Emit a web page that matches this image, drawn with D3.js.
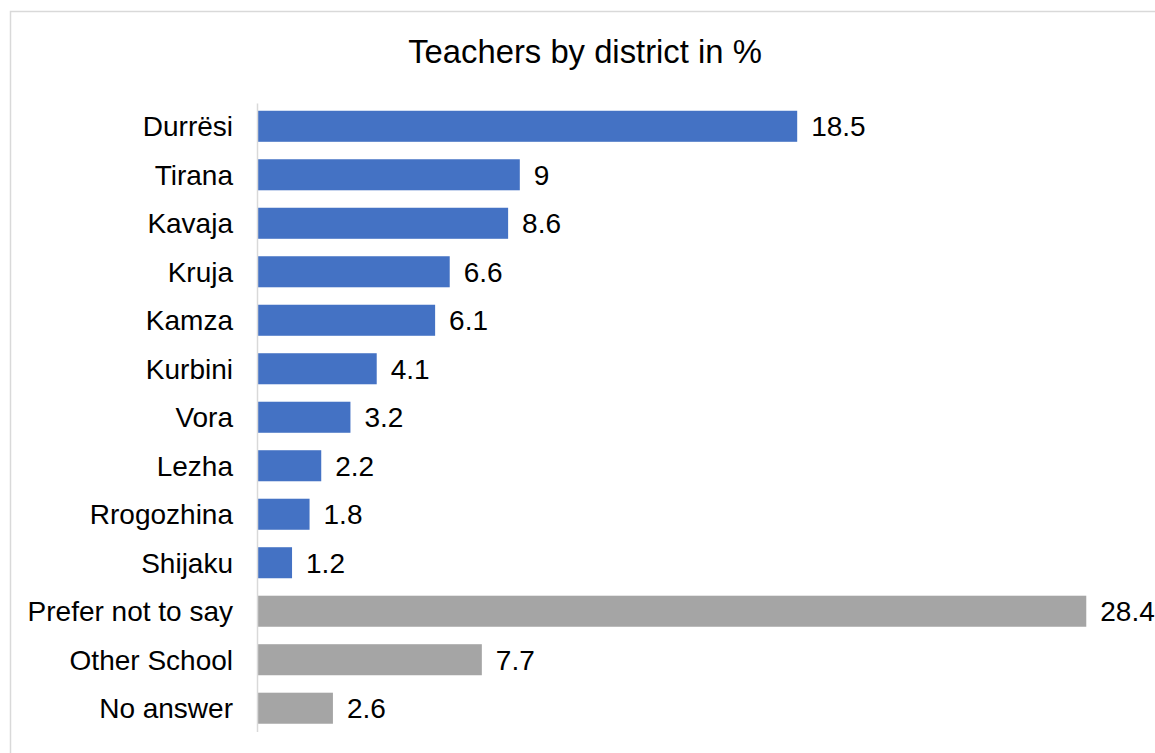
<!DOCTYPE html>
<html>
<head>
<meta charset="utf-8">
<script src="https://cdn.jsdelivr.net/npm/d3@7"></script>
<style>
  html, body { margin: 0; padding: 0; background: #fff; }
  svg { display: block; }
  text { font-family: "Liberation Sans", Arial, sans-serif; fill: #000; }
</style>
</head>
<body>
<svg id="chart" width="1155" height="753"></svg>
<script>
const title = "Teachers by district in %";
const categories = ["Durrësi", "Tirana", "Kavaja", "Kruja", "Kamza", "Kurbini", "Vora", "Lezha", "Rrogozhina", "Shijaku", "Prefer not to say", "Other School", "No answer"];
const values = [18.5, 9, 8.6, 6.6, 6.1, 4.1, 3.2, 2.2, 1.8, 1.2, 28.4, 7.7, 2.6];
const groups = ["district", "district", "district", "district", "district", "district", "district", "district", "district", "district", "other", "other", "other"];
const xDomain = [0, 30];

const colors = { district: "#4472C4", other: "#A5A5A5" };

const svg = d3.select("#chart");

// chart border
svg.append("rect")
  .attr("x", 10.5).attr("y", 11.5)
  .attr("width", 1170).attr("height", 780)
  .attr("fill", "none").attr("stroke", "#D9D9D9").attr("stroke-width", 1.5);

const x = d3.scaleLinear().domain(xDomain).range([257, 1133]);
const y = d3.scaleBand().domain(categories).range([103, 731.5]).paddingInner(0.36).paddingOuter(0.16);

const data = categories.map((c, i) => ({ c, v: values[i], g: groups[i] }));

// title
svg.append("text")
  .attr("x", 585).attr("y", 62.5)
  .attr("text-anchor", "middle")
  .style("font-size", "32.8px")
  .text(title);

// bars
svg.append("g").selectAll("rect")
  .data(data).join("rect")
  .attr("x", x(0))
  .attr("y", d => y(d.c))
  .attr("width", d => x(d.v) - x(0))
  .attr("height", y.bandwidth())
  .attr("fill", d => colors[d.g]);

// y axis
const yAxis = d3.axisLeft(y).tickSize(0).tickPadding(24);
const gy = svg.append("g").attr("transform", `translate(${x(0)},0)`).call(yAxis);
gy.select(".domain").attr("stroke", "#D9D9D9").attr("stroke-width", 1.5);
gy.selectAll(".tick text")
  .attr("dy", "0.36em")
  .style("font-size", "28px")
  .style("font-family", "'Liberation Sans', Arial, sans-serif")
  .attr("fill", "#000");

// value labels
svg.append("g").selectAll("text")
  .data(data).join("text")
  .attr("x", d => x(d.v) + 14)
  .attr("y", d => y(d.c) + y.bandwidth() / 2)
  .attr("dy", "0.36em")
  .style("font-size", "28px")
  .text(d => d.v);
</script>
</body>
</html>
